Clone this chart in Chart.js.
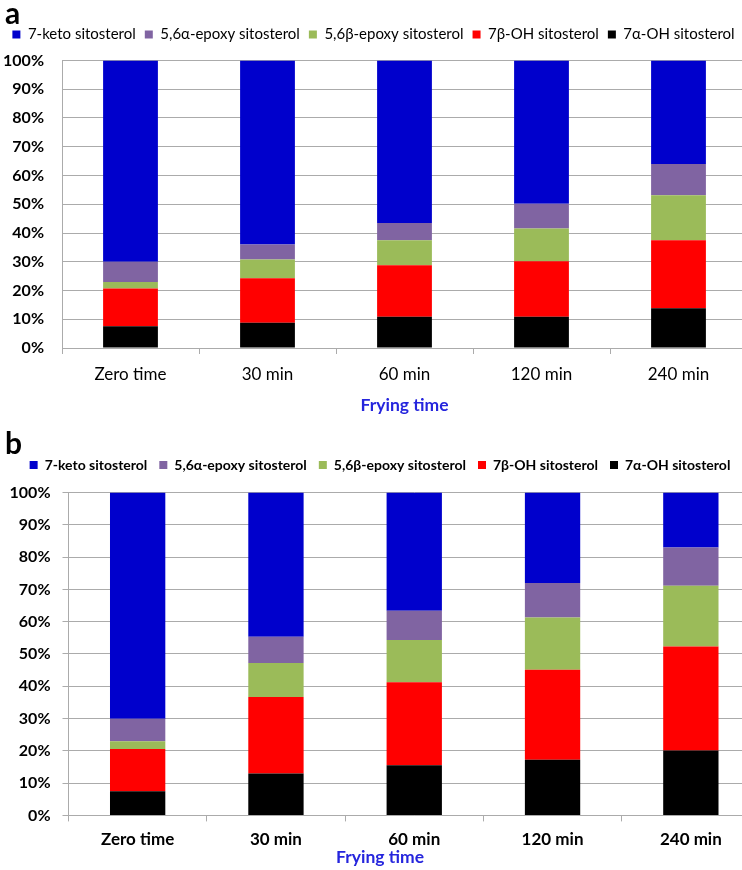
<!DOCTYPE html>
<html>
<head>
<meta charset="utf-8">
<script src="https://cdn.jsdelivr.net/npm/chart.js@4"></script>
<style>
  html, body { margin: 0; padding: 0; background: #fff; overflow: hidden; width: 742px; height: 870px; }
  .panel { position: absolute; left: 0; }
  .letter { position: absolute; left: 5px; font-family: Lato, sans-serif; font-weight: bold; font-size: 30px; line-height: 30px; z-index: 2; }
</style>
</head>
<body>
<div class="letter" style="top:-3px">a</div>
<div class="panel" style="top:0"><canvas id="chartA" width="752" height="418"></canvas></div>
<div class="letter" style="top:427px">b</div>
<div class="panel" style="top:420px"><canvas id="chartB" width="765" height="450"></canvas></div>

<script>
var categories = ['Zero time', '30 min', '60 min', '120 min', '240 min'];
var seriesNames = ['7α-OH sitosterol', '7β-OH sitosterol', '5,6β-epoxy sitosterol', '5,6α-epoxy sitosterol', '7-keto sitosterol'];
var seriesColors = ['#000000', '#FF0000', '#9BBB59', '#8064A2', '#0000CC'];
var yTicks = [0, 10, 20, 30, 40, 50, 60, 70, 80, 90, 100];
var axisTitle = 'Frying time';

// panel a, share of each oxide (%), bottom segment first
var a7alphaOH = [7.6, 8.8, 10.9, 10.9, 13.8];
var a7betaOH = [13.1, 15.5, 17.9, 19.3, 23.7];
var a56beta = [2.3, 6.5, 8.7, 11.4, 15.6];
var a56alpha = [7.0, 5.2, 6.0, 8.6, 10.9];
var a7keto = [70.0, 64.0, 56.5, 49.8, 36.0];

// panel b
var b7alphaOH = [7.5, 13.0, 15.5, 17.2, 20.1];
var b7betaOH = [13.1, 23.7, 25.7, 27.9, 32.2];
var b56beta = [2.4, 10.5, 13.1, 16.2, 18.8];
var b56alpha = [6.9, 8.1, 9.1, 10.7, 11.9];
var b7keto = [70.1, 44.7, 36.6, 28.0, 17.0];

var FONT = 'Lato, sans-serif';
var GRID = '#ababab';
var TITLE_BLUE = '#2525DD';

function drawChart(canvasId, series, opt) {
  var datasets = series.map(function (values, i) {
    return {
      label: seriesNames[i],
      data: values,
      backgroundColor: seriesColors[i],
      borderWidth: 0,
      barPercentage: 0.4,
      categoryPercentage: 1
    };
  });

  var titleFont = { family: FONT, size: 17.5, weight: 'bold' };

  var config = {
    type: 'bar',
    data: { labels: categories, datasets: datasets },
    options: {
      responsive: false,
      animation: false,
      layout: { padding: { top: opt.padTop, right: opt.padRight, bottom: opt.padBottom, left: 0 } },
      plugins: {
        tooltip: { enabled: false },
        legend: {
          position: 'top',
          align: 'center',
          reverse: true,
          labels: {
            boxWidth: 8,
            boxHeight: 8,
            padding: opt.legendGap,
            color: '#000',
            font: { family: FONT, size: opt.legendSize, weight: opt.legendWeight }
          }
        },
        // empty subtitle used as a spacer between legend and plot
        subtitle: {
          display: true,
          text: '',
          weight: 500,
          font: { size: 1 },
          padding: { top: opt.spacer, bottom: 0 }
        },
        // panel b: axis title centred on the whole figure instead of the plot
        title: {
          display: opt.bottomTitle,
          position: 'bottom',
          text: axisTitle,
          color: TITLE_BLUE,
          padding: { top: 0, bottom: 2 },
          font: titleFont
        }
      },
      scales: {
        x: {
          stacked: true,
          afterFit: function (scale) { scale.height = opt.xHeight; },
          grid: { drawOnChartArea: false, drawTicks: true, tickLength: 6, color: GRID },
          border: { color: GRID },
          ticks: {
            color: '#000',
            padding: opt.xTickPad,
            font: { family: FONT, size: 17, weight: opt.xWeight }
          },
          title: {
            display: !opt.bottomTitle,
            text: axisTitle,
            color: TITLE_BLUE,
            padding: { top: 4, bottom: 0 },
            font: titleFont
          }
        },
        y: {
          stacked: true,
          min: 0,
          max: 100,
          afterFit: function (scale) { scale.width = opt.yWidth; },
          afterBuildTicks: function (scale) {
            scale.ticks = yTicks.map(function (v) { return { value: v }; });
          },
          grid: { color: GRID, drawTicks: opt.yTickLen > 0, tickLength: opt.yTickLen },
          border: { color: GRID },
          ticks: {
            color: '#000',
            padding: opt.yTickPad,
            font: { family: FONT, size: 16, weight: 'bold' },
            callback: function (value) { return value + '%'; }
          }
        }
      }
    }
  };
  return new Chart(document.getElementById(canvasId).getContext('2d'), config);
}

drawChart('chartA', [a7alphaOH, a7betaOH, a56beta, a56alpha, a7keto], {
  padTop: 18, padRight: 5, padBottom: 2.5, spacer: 7.3,
  legendGap: 9, legendSize: 15, legendWeight: 'normal',
  xHeight: 67.5, xTickPad: 10, xWeight: 'normal', bottomTitle: false,
  yWidth: 62, yTickLen: 0, yTickPad: 18
});

drawChart('chartB', [b7alphaOH, b7betaOH, b56beta, b56alpha, b7keto], {
  padTop: 26, padRight: 5, padBottom: 0, spacer: 9.3,
  legendGap: 12, legendSize: 14, legendWeight: 'bold',
  xHeight: 31.6, xTickPad: 8, xWeight: 'bold', bottomTitle: true,
  yWidth: 68.5, yTickLen: 6, yTickPad: 12
});
</script>
</body>
</html>
